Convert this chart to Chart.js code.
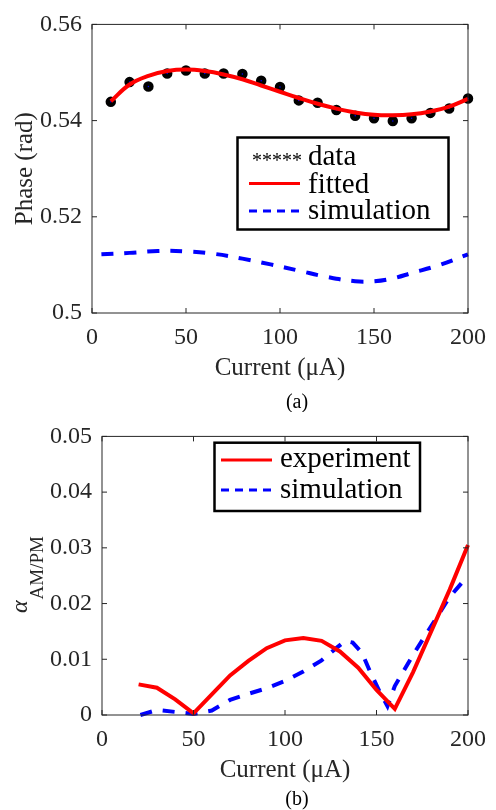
<!DOCTYPE html>
<html>
<head>
<meta charset="utf-8">
<script src="https://cdn.jsdelivr.net/npm/chart.js@4/dist/chart.umd.min.js"></script>
<style>
  html, body { margin: 0; padding: 0; background: #fff; }
  #wrap { position: relative; width: 496px; height: 810px; }
  .pane { position: absolute; left: 0; width: 496px; }
  #paneA { top: 0; height: 412px; }
  #paneB { top: 412px; height: 398px; }
</style>
</head>
<body>
<div id="wrap">
  <div class="pane" id="paneA"><canvas id="chartA"></canvas></div>
  <div class="pane" id="paneB"><canvas id="chartB"></canvas></div>
</div>
<script>
// (a) fase medida, ajuste e simulação
const currentA = [10, 20, 30, 40, 50, 60, 70, 80, 90, 100, 110, 120, 130, 140, 150, 160, 170, 180, 190, 200];
const phaseData = [0.5439, 0.5480, 0.5471, 0.5498, 0.5504, 0.5498, 0.5498, 0.5497, 0.5483, 0.5470,
                   0.5442, 0.5437, 0.5422, 0.5410, 0.5405, 0.5399, 0.5405, 0.5416, 0.5425, 0.5446];
const phaseFit = [0.5440, 0.5475, 0.5493, 0.5503, 0.5506, 0.5503, 0.5496, 0.5486, 0.5473, 0.5460,
                  0.5447, 0.5435, 0.5425, 0.5417, 0.5412, 0.5411, 0.5413, 0.5419, 0.5429, 0.5445];
const simCurrentA = [5, 20, 35, 50, 65, 80, 95, 110, 125, 140, 150, 160, 170, 185, 200];
const phaseSim = [0.5122, 0.5125, 0.5129, 0.5128, 0.5123, 0.5113, 0.5101, 0.5088, 0.5075, 0.5066,
                  0.5066, 0.5072, 0.5083, 0.5100, 0.5122];
const xTicksA = [0, 50, 100, 150, 200];
const yTicksA = [0.5, 0.52, 0.54, 0.56];

// (b) coeficiente AM/PM
const expCurrent = [20, 30, 40, 50, 60, 70, 80, 90, 100, 110, 120, 130, 140, 150, 160, 170, 180, 190, 200];
const alphaExp = [0.0055, 0.0049, 0.0028, 0.0003, 0.0037, 0.0071, 0.0097, 0.0120, 0.0134, 0.0138,
                  0.0133, 0.0114, 0.0085, 0.0045, 0.0011, 0.0077, 0.0151, 0.0225, 0.0305];
const simCurrentB = [21, 30, 50, 60, 70, 80, 90, 100, 110, 120, 128, 133, 137, 142, 147, 152, 156, 160, 170, 180, 190, 200];
const alphaSim = [0.0000, 0.0009, 0.0002, 0.0008, 0.0027, 0.0038, 0.0048, 0.0061, 0.0078, 0.0098,
                  0.0120, 0.0133, 0.0130, 0.0112, 0.0074, 0.0040, 0.0016, 0.0052, 0.0108, 0.0160, 0.0212, 0.0250];
const xTicksB = [0, 50, 100, 150, 200];
const yTicksB = [0, 0.01, 0.02, 0.03, 0.04, 0.05];

const SERIF = '"Liberation Serif", "DejaVu Serif", serif';
const AXIS = '#262626';

const pts = (xs, ys) => xs.map((x, i) => ({ x, y: ys[i] }));

// caixa do eixo + ticks para dentro nos quatro lados (estilo MATLAB)
const boxTicks = {
  id: 'boxTicks',
  afterDraw(chart) {
    const { ctx, chartArea: a, scales } = chart;
    ctx.save();
    ctx.strokeStyle = AXIS;
    ctx.lineWidth = 1;
    ctx.strokeRect(a.left, a.top, a.right - a.left, a.bottom - a.top);
    const len = 5;
    ctx.beginPath();
    scales.x.ticks.forEach(t => {
      const px = scales.x.getPixelForValue(t.value);
      ctx.moveTo(px, a.bottom); ctx.lineTo(px, a.bottom - len);
      ctx.moveTo(px, a.top); ctx.lineTo(px, a.top + len);
    });
    scales.y.ticks.forEach(t => {
      const py = scales.y.getPixelForValue(t.value);
      ctx.moveTo(a.left, py); ctx.lineTo(a.left + len, py);
      ctx.moveTo(a.right, py); ctx.lineTo(a.right - len, py);
    });
    ctx.stroke();
    ctx.restore();
  }
};

// legenda desenhada à mão (caixa preta, texto serifado)
function legendPlugin(box, rows) {
  return {
    id: 'handLegend',
    afterDraw(chart) {
      const ctx = chart.ctx;
      ctx.save();
      ctx.fillStyle = '#fff';
      ctx.fillRect(box.x, box.y, box.w, box.h);
      ctx.strokeStyle = '#000';
      ctx.lineWidth = 2.5;
      ctx.strokeRect(box.x, box.y, box.w, box.h);
      rows.forEach(r => {
        if (r.stars) {
          ctx.fillStyle = '#000';
          ctx.font = '20px ' + SERIF;
          ctx.textAlign = 'left';
          ctx.textBaseline = 'alphabetic';
          ctx.fillText('*****', r.x0 + 2, r.baseline + 2);
        } else {
          ctx.beginPath();
          ctx.strokeStyle = r.color;
          ctx.lineWidth = 3;
          ctx.setLineDash(r.dash || []);
          ctx.moveTo(r.x0, r.lineY);
          ctx.lineTo(r.x1, r.lineY);
          ctx.stroke();
          ctx.setLineDash([]);
        }
        ctx.fillStyle = '#000';
        ctx.font = '29px ' + SERIF;
        ctx.textAlign = 'left';
        ctx.textBaseline = 'alphabetic';
        ctx.fillText(r.label, r.tx, r.baseline);
      });
      ctx.restore();
    }
  };
}

function caption(text, x, y) {
  return {
    id: 'caption',
    afterDraw(chart) {
      const ctx = chart.ctx;
      ctx.save();
      ctx.fillStyle = '#000';
      ctx.font = '20px ' + SERIF;
      ctx.textAlign = 'center';
      ctx.textBaseline = 'middle';
      ctx.fillText(text, x, y);
      ctx.restore();
    }
  };
}

// rótulo do eixo y de (b): alfa com subscrito
const alphaTitle = {
  id: 'alphaTitle',
  afterDraw(chart) {
    const ctx = chart.ctx;
    ctx.save();
    ctx.translate(27, 613 - 412);
    ctx.rotate(-Math.PI / 2);
    ctx.fillStyle = AXIS;
    ctx.textBaseline = 'alphabetic';
    ctx.textAlign = 'left';
    ctx.font = 'italic 24px ' + SERIF;
    ctx.fillText('α', 0, 0);
    const w = ctx.measureText('α').width;
    ctx.font = '19px ' + SERIF;
    ctx.fillText('AM/PM', w + 1, 16);
    ctx.restore();
  }
};

function scaleX(ticks, titleBottom, height) {
  return {
    type: 'linear',
    min: 0, max: 200,
    afterBuildTicks: s => { s.ticks = ticks.map(v => ({ value: v })); },
    afterFit: s => { s.height = height; },
    grid: { display: false, drawTicks: false },
    border: { display: false },
    ticks: { color: AXIS, padding: 10, maxRotation: 0, font: { family: SERIF, size: 24 }, callback: v => String(v) },
    title: { display: true, text: 'Current (μA)', color: AXIS, font: { family: SERIF, size: 25 }, padding: { top: 0, bottom: titleBottom } }
  };
}

function scaleY(ticks, min, max, width, title) {
  return {
    type: 'linear',
    min, max,
    afterBuildTicks: s => { s.ticks = ticks.map(v => ({ value: v })); },
    afterFit: s => { s.width = width; },
    grid: { display: false, drawTicks: false },
    border: { display: false },
    ticks: { color: AXIS, padding: 10, font: { family: SERIF, size: 24 }, callback: v => String(v) },
    title: title
      ? { display: true, text: title, color: AXIS, font: { family: SERIF, size: 25 }, padding: { top: 10, bottom: 0 } }
      : { display: false }
  };
}

const common = {
  responsive: true,
  maintainAspectRatio: false,
  animation: false,
  events: [],
  plugins: { legend: { display: false }, tooltip: { enabled: false } }
};

new Chart(document.getElementById('chartA'), {
  type: 'line',
  data: {
    datasets: [
      {
        label: 'fitted',
        data: pts(currentA, phaseFit),
        borderColor: '#ff0000', borderWidth: 4, pointRadius: 0,
        tension: 0.4, clip: false, order: 0
      },
      {
        label: 'data',
        data: pts(currentA, phaseData),
        showLine: false,
        pointRadius: 3, pointBorderWidth: 4.5,
        pointBackgroundColor: '#0000ff', pointBorderColor: '#000',
        clip: false, order: 1
      },
      {
        label: 'simulation',
        data: pts(simCurrentA, phaseSim),
        borderColor: '#0000ff', borderWidth: 4, borderDash: [12, 11], pointRadius: 0,
        tension: 0.4, clip: false, order: 2
      }
    ]
  },
  options: {
    ...common,
    layout: { padding: { top: 22, right: 23, left: 0, bottom: 0 } },
    scales: {
      x: scaleX(xTicksA, 29, 99),
      y: scaleY(yTicksA, 0.5, 0.56, 92, 'Phase (rad)')
    }
  },
  plugins: [
    boxTicks,
    legendPlugin({ x: 237.5, y: 137.5, w: 211, h: 92 }, [
      { stars: true, x0: 250, label: 'data', tx: 308, baseline: 165 },
      { color: '#ff0000', x0: 249, x1: 300, lineY: 183.5, label: 'fitted', tx: 308, baseline: 192.5 },
      { color: '#0000ff', dash: [8, 6], x0: 249, x1: 300, lineY: 211, label: 'simulation', tx: 308, baseline: 218.5 }
    ]),
    caption('(a)', 297, 403)
  ]
});

new Chart(document.getElementById('chartB'), {
  type: 'line',
  data: {
    datasets: [
      {
        label: 'experiment',
        data: pts(expCurrent, alphaExp),
        borderColor: '#ff0000', borderWidth: 4, pointRadius: 0,
        tension: 0, clip: false, order: 0
      },
      {
        label: 'simulation',
        data: pts(simCurrentB, alphaSim),
        borderColor: '#0000ff', borderWidth: 4, borderDash: [12, 11], pointRadius: 0,
        tension: 0, clip: false, order: 1
      }
    ]
  },
  options: {
    ...common,
    layout: { padding: { top: 11, right: 23, left: 0, bottom: 0 } },
    scales: {
      x: scaleX(xTicksB, 25, 95),
      y: scaleY(yTicksB, 0, 0.05, 102, null)
    }
  },
  plugins: [
    boxTicks,
    alphaTitle,
    legendPlugin({ x: 214.5, y: 442.7 - 412, w: 205.5, h: 68.3 }, [
      { color: '#ff0000', x0: 221, x1: 272, lineY: 460 - 412, label: 'experiment', tx: 280, baseline: 466.7 - 412 },
      { color: '#0000ff', dash: [8, 6], x0: 221, x1: 272, lineY: 490 - 412, label: 'simulation', tx: 280, baseline: 498.3 - 412 }
    ]),
    caption('(b)', 297, 800 - 412)
  ]
});
</script>
</body>
</html>
